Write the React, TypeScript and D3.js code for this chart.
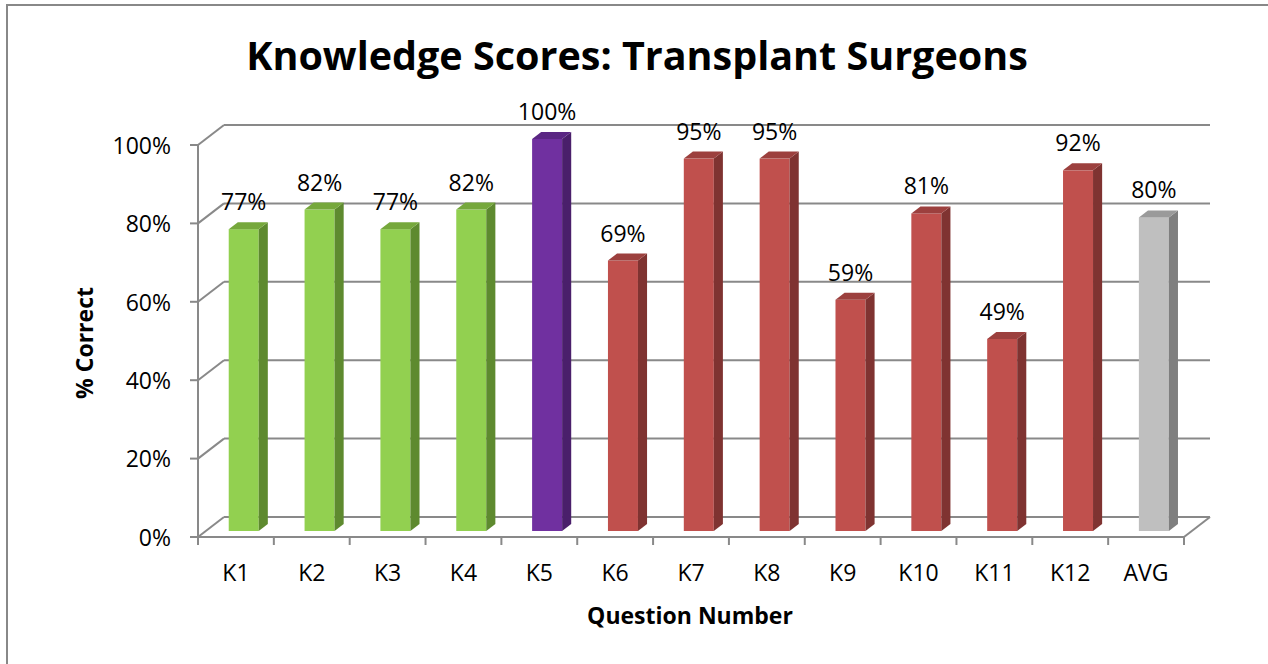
import React from "react";
import { scaleBand, scaleLinear, range } from "d3";

const categories = ["K1", "K2", "K3", "K4", "K5", "K6", "K7", "K8", "K9", "K10", "K11", "K12", "AVG"];
const scores = [77, 82, 77, 82, 100, 69, 95, 95, 59, 81, 49, 92, 80];
const groups = ["green", "green", "green", "green", "purple", "red", "red", "red", "red", "red", "red", "red", "gray"];
const yTicks = [0, 20, 40, 60, 80, 100];

// face / top / side shades for each group
const palette: Record<string, [string, string, string]> = {
  green: ["#92d050", "#76a83c", "#5e8a2f"],
  purple: ["#7030a0", "#5a2683", "#4a1f6b"],
  red: ["#c0504d", "#9c403e", "#7f3331"],
  gray: ["#bfbfbf", "#9a9a9a", "#7f7f7f"],
};

const W = 1268;
const H = 664;
const left = 198;
const right = 1184;
const floorY = 537;
const topY = 145;
const depthX = 26; // back wall offset
const depthY = -20;
const barW = 30;
const frontT = 0.3; // depth of bar front face
const backT = 0.65;

const font = "'Open Sans', sans-serif";
const grid = "#898989";
const fs = 23;

export default function App() {
  const x = scaleBand<string>().domain(categories).range([left, right]);
  const y = scaleLinear().domain([0, 100]).range([floorY, topY]);

  const fdx = depthX * frontT;
  const fdy = depthY * frontT;
  const ddx = depthX * (backT - frontT);
  const ddy = depthY * (backT - frontT);

  return (
    <svg width={W} height={H} style={{ position: "absolute", left: 0, top: 0, background: "#fff" }}>
      {/* chart frame */}
      <path d={`M7,${H} L7,5 L${W},5`} fill="none" stroke="#888" strokeWidth={2} />

      <text x={637} y={70} textAnchor="middle" fontFamily={font} fontWeight="bold" fontSize={39.5}>
        Knowledge Scores: Transplant Surgeons
      </text>

      {/* back wall gridlines + side wall diagonals */}
      {yTicks.map((t) => (
        <g key={t}>
          <line x1={left + depthX} x2={right + depthX} y1={y(t) + depthY} y2={y(t) + depthY} stroke={grid} strokeWidth={2} />
          <line x1={left} x2={left + depthX} y1={y(t)} y2={y(t) + depthY} stroke={grid} strokeWidth={2} />
          <line x1={left - 8} x2={left} y1={y(t)} y2={y(t)} stroke={grid} strokeWidth={2} />
          <text x={171} y={y(t)} dy="0.38em" textAnchor="end" fontFamily={font} fontSize={fs}>
            {t}%
          </text>
        </g>
      ))}
      <line x1={right} x2={right + depthX} y1={floorY} y2={floorY + depthY} stroke={grid} strokeWidth={2} />

      {/* axes */}
      <line x1={left} x2={left} y1={topY} y2={floorY + 8} stroke={grid} strokeWidth={2} />
      <line x1={left} x2={right} y1={floorY} y2={floorY} stroke={grid} strokeWidth={2} />
      {range(categories.length + 1).map((i) => {
        const xx = left + i * x.step();
        return <line key={i} x1={xx} x2={xx} y1={floorY} y2={floorY + 8} stroke={grid} strokeWidth={2} />;
      })}

      {/* bars */}
      {categories.map((c, i) => {
        const [face, top, side] = palette[groups[i]];
        const cx = (x(c) as number) + x.bandwidth() / 2 + fdx;
        const x0 = cx - barW / 2;
        const x1 = cx + barW / 2;
        const yb = y(0) + fdy;
        const yt = y(scores[i]) + fdy;
        return (
          <g key={c}>
            <rect x={x0} y={yt} width={barW} height={yb - yt} fill={face} />
            <polygon points={`${x1},${yt} ${x1 + ddx},${yt + ddy} ${x1 + ddx},${yb + ddy} ${x1},${yb}`} fill={side} />
            <polygon points={`${x0},${yt} ${x1},${yt} ${x1 + ddx},${yt + ddy} ${x0 + ddx},${yt + ddy}`} fill={top} />
            <text x={cx} y={yt - 19} textAnchor="middle" fontFamily={font} fontSize={fs}>
              {scores[i]}%
            </text>
          </g>
        );
      })}

      {/* category labels */}
      {categories.map((c) => (
        <text key={c} x={(x(c) as number) + x.bandwidth() / 2} y={581} textAnchor="middle" fontFamily={font} fontSize={fs}>
          {c}
        </text>
      ))}

      <text x={690} y={624} textAnchor="middle" fontFamily={font} fontWeight="bold" fontSize={23}>
        Question Number
      </text>
      <text transform="translate(93,343) rotate(-90)" textAnchor="middle" fontFamily={font} fontWeight="bold" fontSize={23}>
        % Correct
      </text>
    </svg>
  );
}
